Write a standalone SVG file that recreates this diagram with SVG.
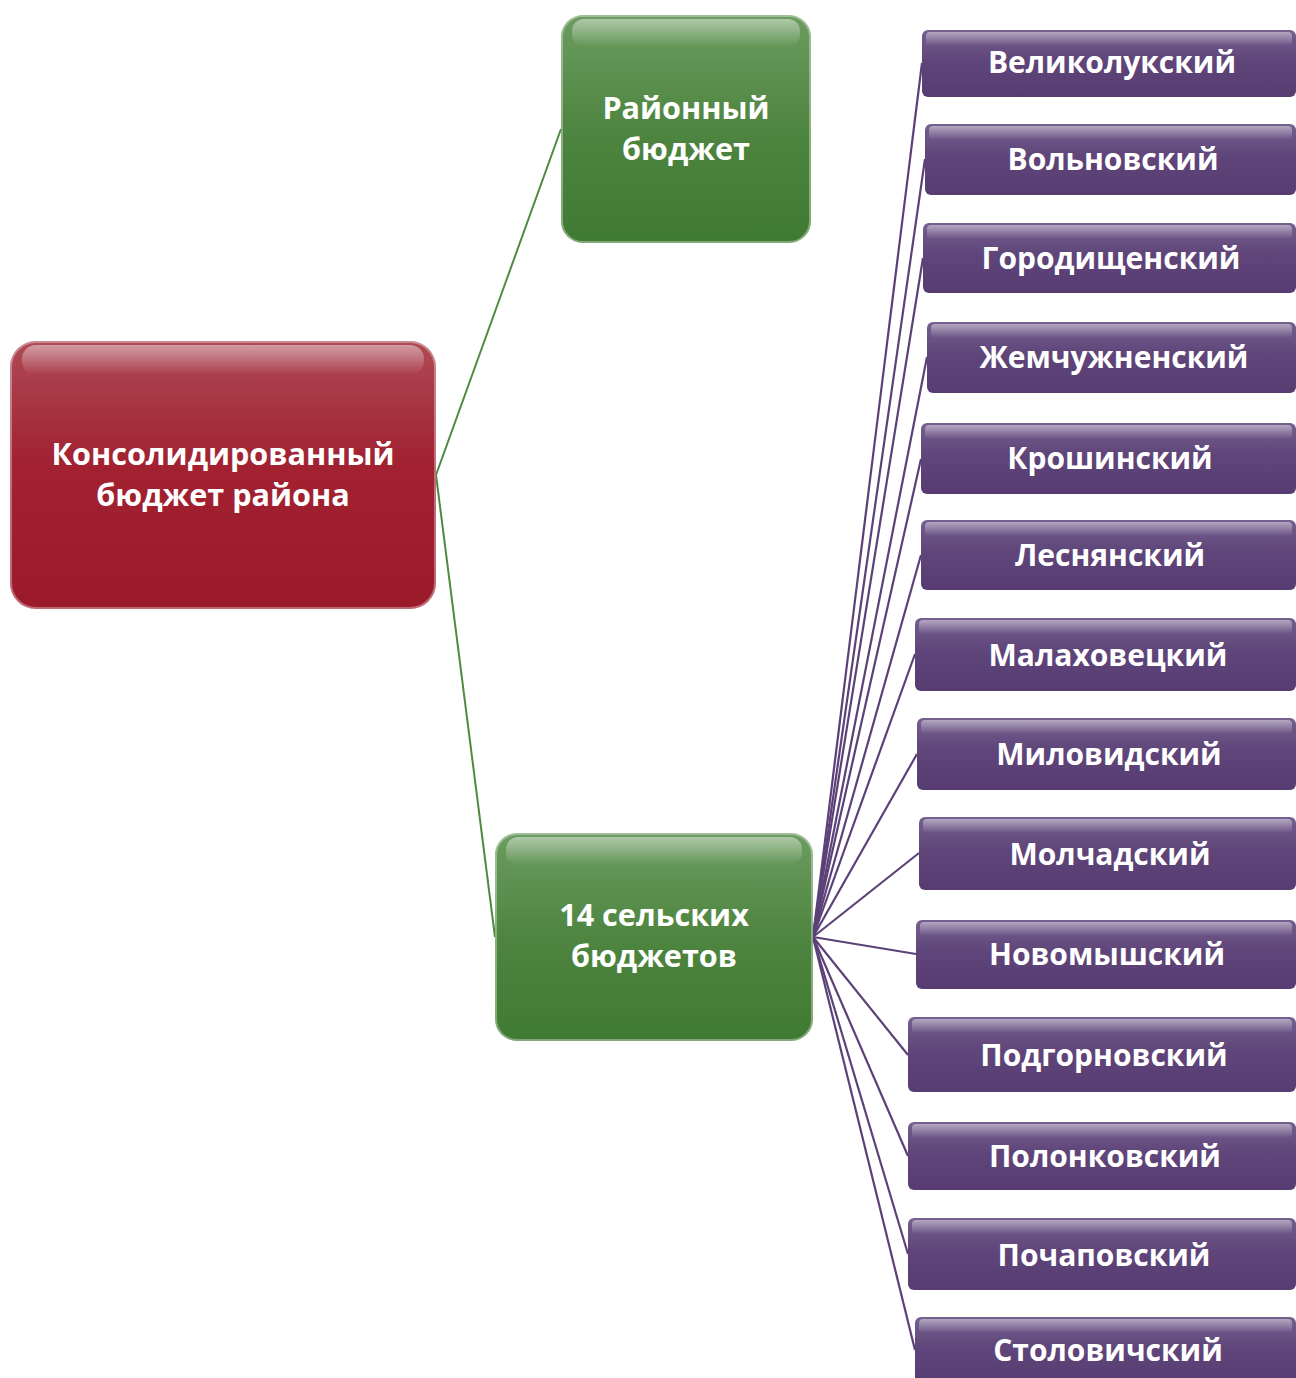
<svg xmlns="http://www.w3.org/2000/svg" width="1296" height="1378" viewBox="0 0 1296 1378">
<defs>
<linearGradient id="gRed" x1="0" y1="0" x2="0" y2="1">
<stop offset="0" stop-color="#ae4a55"/><stop offset="0.45" stop-color="#a22232"/><stop offset="1" stop-color="#9a1a2b"/>
</linearGradient>
<linearGradient id="gGreen" x1="0" y1="0" x2="0" y2="1">
<stop offset="0" stop-color="#6c9c60"/><stop offset="0.5" stop-color="#4e8540"/><stop offset="1" stop-color="#3f7a32"/>
</linearGradient>
<linearGradient id="gPurple" x1="0" y1="0" x2="0" y2="1">
<stop offset="0" stop-color="#75608f"/><stop offset="0.45" stop-color="#5f4579"/><stop offset="1" stop-color="#573c71"/>
</linearGradient>
<linearGradient id="gHi" x1="0" y1="0" x2="0" y2="1">
<stop offset="0" stop-color="#ffffff" stop-opacity="0.45"/><stop offset="1" stop-color="#ffffff" stop-opacity="0"/>
</linearGradient>
</defs>
<style>
.t{font-family:"Open Sans","Noto Sans","DejaVu Sans",sans-serif;font-weight:700;fill:#ffffff;text-anchor:middle}
.big{font-size:30.6px}
.sm{font-size:30px}
.cg{stroke:#4f8a3f;stroke-width:2;fill:none}
.cp{stroke:#5b4178;stroke-width:2.2;fill:none}
.hi{fill:url(#gHi)}
.edge{fill:none;stroke:#ffffff;stroke-opacity:0.35;stroke-width:2}
</style>
<g id="connectors">
<line class="cg" x1="436" y1="475" x2="561" y2="129"/>
<line class="cg" x1="436" y1="475" x2="495" y2="937"/>
<line class="cp" x1="813" y1="937" x2="922" y2="63"/>
<line class="cp" x1="813" y1="937" x2="925" y2="159"/>
<line class="cp" x1="813" y1="937" x2="923" y2="258"/>
<line class="cp" x1="813" y1="937" x2="927" y2="357"/>
<line class="cp" x1="813" y1="937" x2="921" y2="459"/>
<line class="cp" x1="813" y1="937" x2="921" y2="555"/>
<line class="cp" x1="813" y1="937" x2="915" y2="654"/>
<line class="cp" x1="813" y1="937" x2="917" y2="754"/>
<line class="cp" x1="813" y1="937" x2="919" y2="853"/>
<line class="cp" x1="813" y1="937" x2="916" y2="954"/>
<line class="cp" x1="813" y1="937" x2="908" y2="1055"/>
<line class="cp" x1="813" y1="937" x2="908" y2="1156"/>
<line class="cp" x1="813" y1="937" x2="908" y2="1254"/>
<line class="cp" x1="813" y1="937" x2="915" y2="1350"/>
</g>
<g id="node-root">
<rect x="10" y="341" width="426" height="268" rx="26" fill="url(#gRed)"/>
<rect x="22" y="345" width="402" height="30" rx="14" class="hi"/>
<rect x="11" y="342" width="424" height="266" rx="25" class="edge"/>
<text class="t big" x="223" y="465">Консолидированный</text>
<text class="t big" x="223" y="506">бюджет района</text>
</g>
<g id="node-district">
<rect x="561" y="15" width="250" height="228" rx="22" fill="url(#gGreen)"/>
<rect x="572" y="19" width="228" height="28" rx="12" class="hi"/>
<rect x="562" y="16" width="248" height="226" rx="21" class="edge"/>
<text class="t big" x="686" y="119">Районный</text>
<text class="t big" x="686" y="160">бюджет</text>
</g>
<g id="node-rural">
<rect x="495" y="833" width="318" height="208" rx="22" fill="url(#gGreen)"/>
<rect x="506" y="837" width="296" height="28" rx="12" class="hi"/>
<rect x="496" y="834" width="316" height="206" rx="21" class="edge"/>
<text class="t big" x="654" y="926">14 сельских</text>
<text class="t big" x="654" y="967">бюджетов</text>
</g>
<g id="n1"><rect x="922" y="30" width="374" height="67" rx="6" fill="url(#gPurple)"/><rect x="926" y="32" width="366" height="14" rx="4" class="hi"/><text class="t sm" x="1112" y="73">Великолукский</text></g>
<g id="n2"><rect x="925" y="124" width="371" height="71" rx="6" fill="url(#gPurple)"/><rect x="929" y="126" width="363" height="14" rx="4" class="hi"/><text class="t sm" x="1113" y="170">Вольновский</text></g>
<g id="n3"><rect x="923" y="223" width="373" height="70" rx="6" fill="url(#gPurple)"/><rect x="927" y="225" width="365" height="14" rx="4" class="hi"/><text class="t sm" x="1111" y="269">Городищенский</text></g>
<g id="n4"><rect x="927" y="322" width="369" height="71" rx="6" fill="url(#gPurple)"/><rect x="931" y="324" width="361" height="14" rx="4" class="hi"/><text class="t sm" x="1114" y="368">Жемчужненский</text></g>
<g id="n5"><rect x="921" y="423" width="375" height="71" rx="6" fill="url(#gPurple)"/><rect x="925" y="425" width="367" height="14" rx="4" class="hi"/><text class="t sm" x="1110" y="469">Крошинский</text></g>
<g id="n6"><rect x="921" y="520" width="375" height="70" rx="6" fill="url(#gPurple)"/><rect x="925" y="522" width="367" height="14" rx="4" class="hi"/><text class="t sm" x="1110" y="566">Леснянский</text></g>
<g id="n7"><rect x="915" y="618" width="381" height="73" rx="6" fill="url(#gPurple)"/><rect x="919" y="620" width="373" height="14" rx="4" class="hi"/><text class="t sm" x="1108" y="666">Малаховецкий</text></g>
<g id="n8"><rect x="917" y="718" width="379" height="72" rx="6" fill="url(#gPurple)"/><rect x="921" y="720" width="371" height="14" rx="4" class="hi"/><text class="t sm" x="1109" y="765">Миловидский</text></g>
<g id="n9"><rect x="919" y="817" width="377" height="73" rx="6" fill="url(#gPurple)"/><rect x="923" y="819" width="369" height="14" rx="4" class="hi"/><text class="t sm" x="1110" y="865">Молчадский</text></g>
<g id="n10"><rect x="916" y="920" width="380" height="69" rx="6" fill="url(#gPurple)"/><rect x="920" y="922" width="372" height="14" rx="4" class="hi"/><text class="t sm" x="1107" y="965">Новомышский</text></g>
<g id="n11"><rect x="908" y="1017" width="388" height="75" rx="6" fill="url(#gPurple)"/><rect x="912" y="1019" width="380" height="14" rx="4" class="hi"/><text class="t sm" x="1104" y="1066">Подгорновский</text></g>
<g id="n12"><rect x="908" y="1122" width="388" height="68" rx="6" fill="url(#gPurple)"/><rect x="912" y="1124" width="380" height="14" rx="4" class="hi"/><text class="t sm" x="1105" y="1167">Полонковский</text></g>
<g id="n13"><rect x="908" y="1218" width="388" height="72" rx="6" fill="url(#gPurple)"/><rect x="912" y="1220" width="380" height="14" rx="4" class="hi"/><text class="t sm" x="1104" y="1266">Почаповский</text></g>
<g id="n14"><rect x="915" y="1317" width="381" height="70" rx="6" fill="url(#gPurple)"/><rect x="919" y="1319" width="373" height="14" rx="4" class="hi"/><text class="t sm" x="1108" y="1361">Столовичский</text></g>
</svg>
